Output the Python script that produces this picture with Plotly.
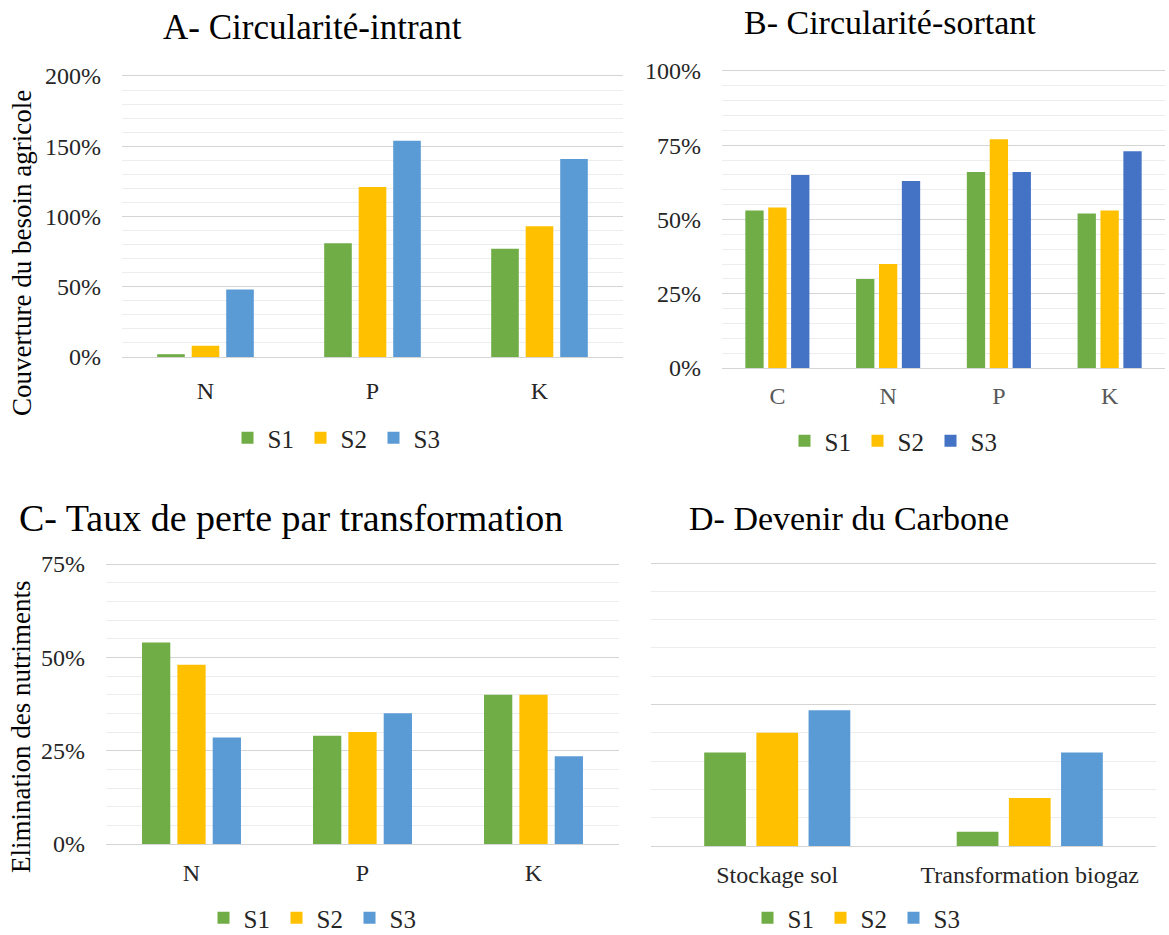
import plotly.graph_objects as go

W, H = 1169, 935

series = ["S1", "S2", "S3"]
colors_A = ["#70AD47", "#FFC000", "#5B9BD5"]
colors_B = ["#70AD47", "#FFC000", "#4472C4"]

# A- Circularité-intrant (% couverture du besoin agricole)
cat_A = ["N", "P", "K"]
A_S1 = [2, 81, 77]
A_S2 = [8, 121, 93]
A_S3 = [48, 154, 141]

# B- Circularité-sortant (%)
cat_B = ["C", "N", "P", "K"]
B_S1 = [53, 30, 66, 52]
B_S2 = [54, 35, 77, 53]
B_S3 = [65, 63, 66, 73]

# C- Taux de perte par transformation (%)
cat_C = ["N", "P", "K"]
C_S1 = [54, 29, 40]
C_S2 = [48, 30, 40]
C_S3 = [28.5, 35, 23.5]

# D- Devenir du Carbone (relative units, no axis labels)
cat_D = ["Stockage sol", "Transformation biogaz"]
D_S1 = [33, 5]
D_S2 = [40, 17]
D_S3 = [48, 33]

FONT = "Liberation Serif, Times New Roman, serif"
MAJOR = "#D4D4D4"
MINOR = "#EDEDED"
EXT = 1.012  # small headroom so the top gridline is drawn


def px_x(x):
    return x / W


def px_y(y):
    return 1 - y / H


panels = [
    dict(key="", cats=cat_A, vals=[A_S1, A_S2, A_S3], cols=colors_A, legend="legend",
         xd=(122, 623), ytop=76, yzero=357, top=200, dtick=50, minor=10, labels=True,
         catcolor="#262626", xstand=12),
    dict(key="2", cats=cat_B, vals=[B_S1, B_S2, B_S3], cols=colors_B, legend="legend2",
         xd=(722, 1165), ytop=71, yzero=368, top=100, dtick=25, minor=5, labels=True,
         catcolor="#595959", xstand=6),
    dict(key="3", cats=cat_C, vals=[C_S1, C_S2, C_S3], cols=colors_A, legend="legend3",
         xd=(106, 619), ytop=564, yzero=844, top=75, dtick=25, minor=5, labels=True,
         catcolor="#262626", xstand=7),
    dict(key="4", cats=cat_D, vals=[D_S1, D_S2, D_S3], cols=colors_A, legend="legend4",
         xd=(651, 1156), ytop=563, yzero=846, top=100, dtick=50, minor=10, labels=False,
         catcolor="#262626", xstand=7),
]

fig = go.Figure()
layout = {}
for p in panels:
    k = p["key"]
    for name, v, c in zip(series, p["vals"], p["cols"]):
        fig.add_trace(go.Bar(
            x=p["cats"], y=v, name=name, marker=dict(color=c, line=dict(width=0)),
            xaxis="x" + k, yaxis="y" + k, legend=p["legend"], hoverinfo="x+y+name",
        ))
    span = p["yzero"] - p["ytop"]
    top_px = p["yzero"] - span * EXT
    layout["xaxis" + k] = dict(
        domain=[px_x(p["xd"][0]), px_x(p["xd"][1])], anchor="y" + k,
        showgrid=False, showline=True, linecolor=MAJOR, linewidth=1, ticks="",
        tickfont=dict(family=FONT, size=24, color=p["catcolor"]),
        ticklabelstandoff=p["xstand"], fixedrange=True, automargin=False,
    )
    layout["yaxis" + k] = dict(
        domain=[px_y(p["yzero"]), px_y(top_px)], anchor="x" + k,
        range=[0, p["top"] * EXT], dtick=p["dtick"], tick0=0, ticksuffix="%",
        showticklabels=p["labels"], showline=False, zeroline=False,
        showgrid=True, gridcolor=MAJOR, gridwidth=1, ticks="",
        minor=dict(dtick=p["minor"], tick0=0, showgrid=True, gridcolor=MINOR, gridwidth=1),
        tickfont=dict(family=FONT, size=24, color="#262626"),
        ticklabelstandoff=20, fixedrange=True, automargin=False,
    )

legend_pos = {
    "legend": (337, 438, 28),
    "legend2": (894, 441, 28),
    "legend3": (313, 918, 28),
    "legend4": (857, 918, 28),
}
for lk, (lx, ly, ew) in legend_pos.items():
    layout[lk] = dict(
        orientation="h", x=px_x(lx), y=px_y(ly), xanchor="center", yanchor="middle",
        font=dict(family=FONT, size=25, color="#262626"), bgcolor="rgba(0,0,0,0)",
        traceorder="normal", itemclick=False, itemdoubleclick=False,
        entrywidth=ew, entrywidthmode="pixels",
    )

titles = [
    ("A- Circularité-intrant", 312, 28, 35),
    ("B- Circularité-sortant", 890, 22, 34),
    ("C- Taux de perte par transformation", 291, 518, 38),
    ("D- Devenir du Carbone", 849, 518, 34),
]
annotations = []
for t, x, y, s in titles:
    annotations.append(dict(
        text=t, x=px_x(x), y=px_y(y), xref="paper", yref="paper",
        xanchor="center", yanchor="middle", showarrow=False,
        font=dict(family=FONT, size=s, color="#000000"),
    ))
for t, x, y in [("Couverture du besoin agricole", 22, 253),
                ("Elimination des nutriments", 21, 727)]:
    annotations.append(dict(
        text=t, x=px_x(x), y=px_y(y), xref="paper", yref="paper",
        xanchor="center", yanchor="middle", showarrow=False, textangle=-90,
        font=dict(family=FONT, size=27, color="#000000"),
    ))

fig.update_layout(
    template="none",
    width=W, height=H, margin=dict(l=0, r=0, t=0, b=0, pad=0, autoexpand=False),
    paper_bgcolor="white", plot_bgcolor="white",
    barmode="group", bargap=0.38, bargroupgap=0.2,
    annotations=annotations, showlegend=True,
    **layout,
)

fig.write_html(
    "out.html",
    config={"displayModeBar": False},
    post_script="document.body.style.margin='0px';document.body.style.overflow='hidden';",
)
